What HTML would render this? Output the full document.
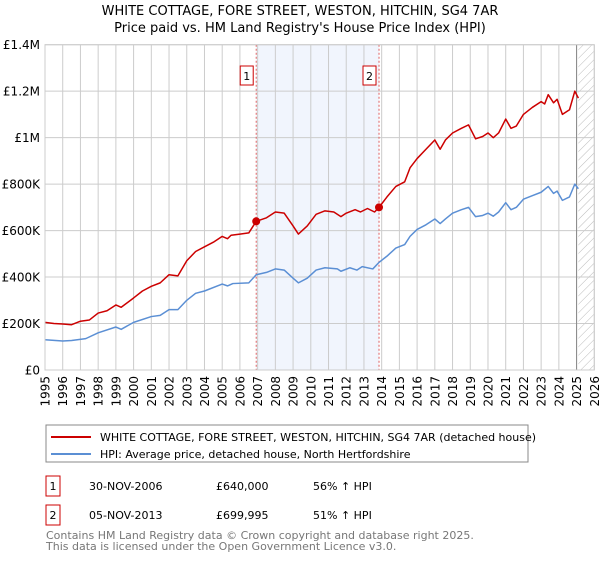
<!DOCTYPE html>
<html><head><meta charset="utf-8"><style>
body{margin:0;background:#fff;font-family:"DejaVu Sans","Liberation Sans",sans-serif;}
svg text{font-family:"DejaVu Sans","Liberation Sans",sans-serif;}
</style></head><body>
<svg id="chart" width="600" height="560" xmlns="http://www.w3.org/2000/svg">
<defs><pattern id="hatch" width="6" height="6" patternUnits="userSpaceOnUse" patternTransform="rotate(45)"><line x1="0" y1="0" x2="0" y2="6" stroke="#bbb" stroke-width="1"/></pattern></defs>
<text x="300" y="15" text-anchor="middle" font-size="13">WHITE COTTAGE, FORE STREET, WESTON, HITCHIN, SG4 7AR</text>
<text x="300" y="32" text-anchor="middle" font-size="13">Price paid vs. HM Land Registry's House Price Index (HPI)</text>
<g id="plot"></g>
<g>
<rect x="46" y="425" width="482" height="37" fill="#fff" stroke="#888"/>
<line x1="51" y1="437" x2="91" y2="437" stroke="#cc0000" stroke-width="2"/>
<text x="100" y="441" font-size="11">WHITE COTTAGE, FORE STREET, WESTON, HITCHIN, SG4 7AR (detached house)</text>
<line x1="51" y1="454" x2="91" y2="454" stroke="#5b8fd4" stroke-width="2"/>
<text x="100" y="458" font-size="11">HPI: Average price, detached house, North Hertfordshire</text>
</g>
<g font-size="11">
<rect x="46" y="476" width="14" height="20" fill="#fff" stroke="#cc0000"/>
<text x="53" y="490" text-anchor="middle">1</text>
<text x="89" y="490">30-NOV-2006</text><text x="216" y="490">£640,000</text><text x="313" y="490">56% ↑ HPI</text>
<rect x="46" y="505" width="14" height="20" fill="#fff" stroke="#cc0000"/>
<text x="53" y="519" text-anchor="middle">2</text>
<text x="89" y="519">05-NOV-2013</text><text x="216" y="519">£699,995</text><text x="313" y="519">51% ↑ HPI</text>
</g>
<text x="46" y="539" font-size="11" fill="#777">Contains HM Land Registry data © Crown copyright and database right 2025.</text>
<text x="46" y="550" font-size="11" fill="#777">This data is licensed under the Open Government Licence v3.0.</text>
</svg>
<script>
const yTicks=[0,200000,400000,600000,800000,1000000,1200000,1400000];
const yTickLabels=["£0","£200K","£400K","£600K","£800K","£1M","£1.2M","£1.4M"];
const xYears=[1995,1996,1997,1998,1999,2000,2001,2002,2003,2004,2005,2006,2007,2008,2009,2010,2011,2012,2013,2014,2015,2016,2017,2018,2019,2020,2021,2022,2023,2024,2025,2026];
const propYears=[1995,1995.5,1996,1996.5,1997,1997.5,1998,1998.5,1999,1999.3,2000,2000.5,2001,2001.5,2002,2002.5,2003,2003.5,2004,2004.5,2005,2005.3,2005.5,2006,2006.5,2006.92,2007.5,2008,2008.5,2009,2009.3,2009.8,2010.3,2010.8,2011.3,2011.7,2012,2012.5,2012.8,2013.2,2013.6,2013.85,2014.3,2014.8,2015.3,2015.6,2016,2016.5,2017,2017.3,2017.6,2018,2018.5,2018.9,2019.3,2019.7,2020,2020.3,2020.6,2021,2021.3,2021.6,2022,2022.5,2023,2023.2,2023.4,2023.7,2023.9,2024.2,2024.6,2024.9,2025.1];
const propValues=[205,200,198,195,210,215,245,255,280,270,310,340,360,375,410,405,470,510,530,550,575,565,580,585,590,640,655,680,675,620,585,620,670,685,680,660,675,690,680,695,680,700,745,790,810,870,910,950,990,950,990,1020,1040,1055,995,1005,1020,1000,1020,1080,1040,1050,1100,1130,1155,1145,1185,1150,1165,1100,1120,1200,1170];
const hpiYears=[1995,1996,1996.5,1997.3,1998,1999,1999.3,2000,2001,2001.5,2002,2002.5,2003,2003.5,2004,2005,2005.3,2005.6,2006.5,2006.92,2007.5,2008,2008.5,2009,2009.3,2009.8,2010.3,2010.8,2011.5,2011.7,2012.2,2012.6,2012.9,2013.5,2013.85,2014.3,2014.8,2015.3,2015.6,2016,2016.5,2017,2017.3,2017.6,2018,2018.5,2018.9,2019.3,2019.7,2020,2020.3,2020.6,2021,2021.3,2021.6,2022,2022.5,2023,2023.4,2023.7,2023.9,2024.2,2024.6,2024.9,2025.1];
const hpiValues=[130,125,127,135,160,185,175,205,230,235,260,260,300,330,340,370,362,372,375,410,420,435,430,395,375,395,430,440,435,425,440,430,445,435,463,490,525,540,575,605,625,650,630,650,675,690,700,660,665,675,662,680,720,690,700,735,750,765,790,760,770,730,745,800,780];
const saleYears=[2006.92,2013.85];
const saleValues=[640,699.995];
const saleLabels=["1","2"];
const NS="http://www.w3.org/2000/svg";
const L=45,R=594.3,T=44.7,B=370;
const x=y=>L+(y-1995)/(2026-1995)*(R-L);
const yv=v=>B-v/1400000*(B-T);
const g=document.getElementById('plot');
function el(t,a){const e=document.createElementNS(NS,t);for(const k in a)e.setAttribute(k,a[k]);g.appendChild(e);return e;}
let e=el('rect',{x:x(saleYears[0]),y:T,width:x(saleYears[1])-x(saleYears[0]),height:B-T,fill:'#eef3fc',opacity:0.8});


e=el('rect',{x:x(2025.1),y:T,width:R-x(2025.1),height:B-T,fill:'url(#hatch)'});


xYears.forEach(yr=>{
 const l=el('line',{x1:x(yr),x2:x(yr),y1:T,y2:B,stroke:'#ccc','stroke-width':1});
 
 
 const t=el('text',{x:0,y:0,'font-size':12,'text-anchor':'end',transform:`translate(${x(yr)+4.5},${B+6}) rotate(-90)`});
 t.textContent=yr;
 
 
});
yTicks.forEach((v,i)=>{
 const l=el('line',{x1:L,x2:R,y1:yv(v),y2:yv(v),stroke:'#ccc','stroke-width':1});
 
 
 const t=el('text',{x:L-5,y:yv(v)+4.5,'font-size':12,'text-anchor':'end'});
 t.textContent=yTickLabels[i];
 
 
});
e=el('line',{x1:x(2025),x2:x(2025),y1:T,y2:B,stroke:'#888','stroke-width':1});


saleYears.forEach((yr,i)=>{
 const l=el('line',{x1:x(yr),x2:x(yr),y1:T,y2:B,stroke:'#e06060','stroke-dasharray':'2,2','stroke-width':1});
 
 
 const r=el('rect',{x:x(yr)-16,y:66,width:13,height:19,fill:'#fff',stroke:'#cc0000'});
 
 
 const t=el('text',{x:x(yr)-9.5,y:80,'font-size':11,'text-anchor':'middle'});
 t.textContent=saleLabels[i];
 
 
});
function line(xs,vs,c,n){const p=el('polyline',{points:xs.map((a,i)=>x(a)+','+yv(vs[i]*1000)).join(' '),fill:'none',stroke:c,'stroke-width':1.5,'stroke-linejoin':'round'});
 
 }
line(hpiYears,hpiValues,'#5b8fd4','hpi-line');
line(propYears,propValues,'#cc0000','property-price-line');
saleYears.forEach((yr,i)=>{const c=el('circle',{cx:x(yr),cy:yv(saleValues[i]*1000),r:4,fill:'#cc0000'});
 
 });
e=el('rect',{x:L,y:T,width:R-L,height:B-T,fill:'none',stroke:'#ccc'});


</script>
</body></html>
